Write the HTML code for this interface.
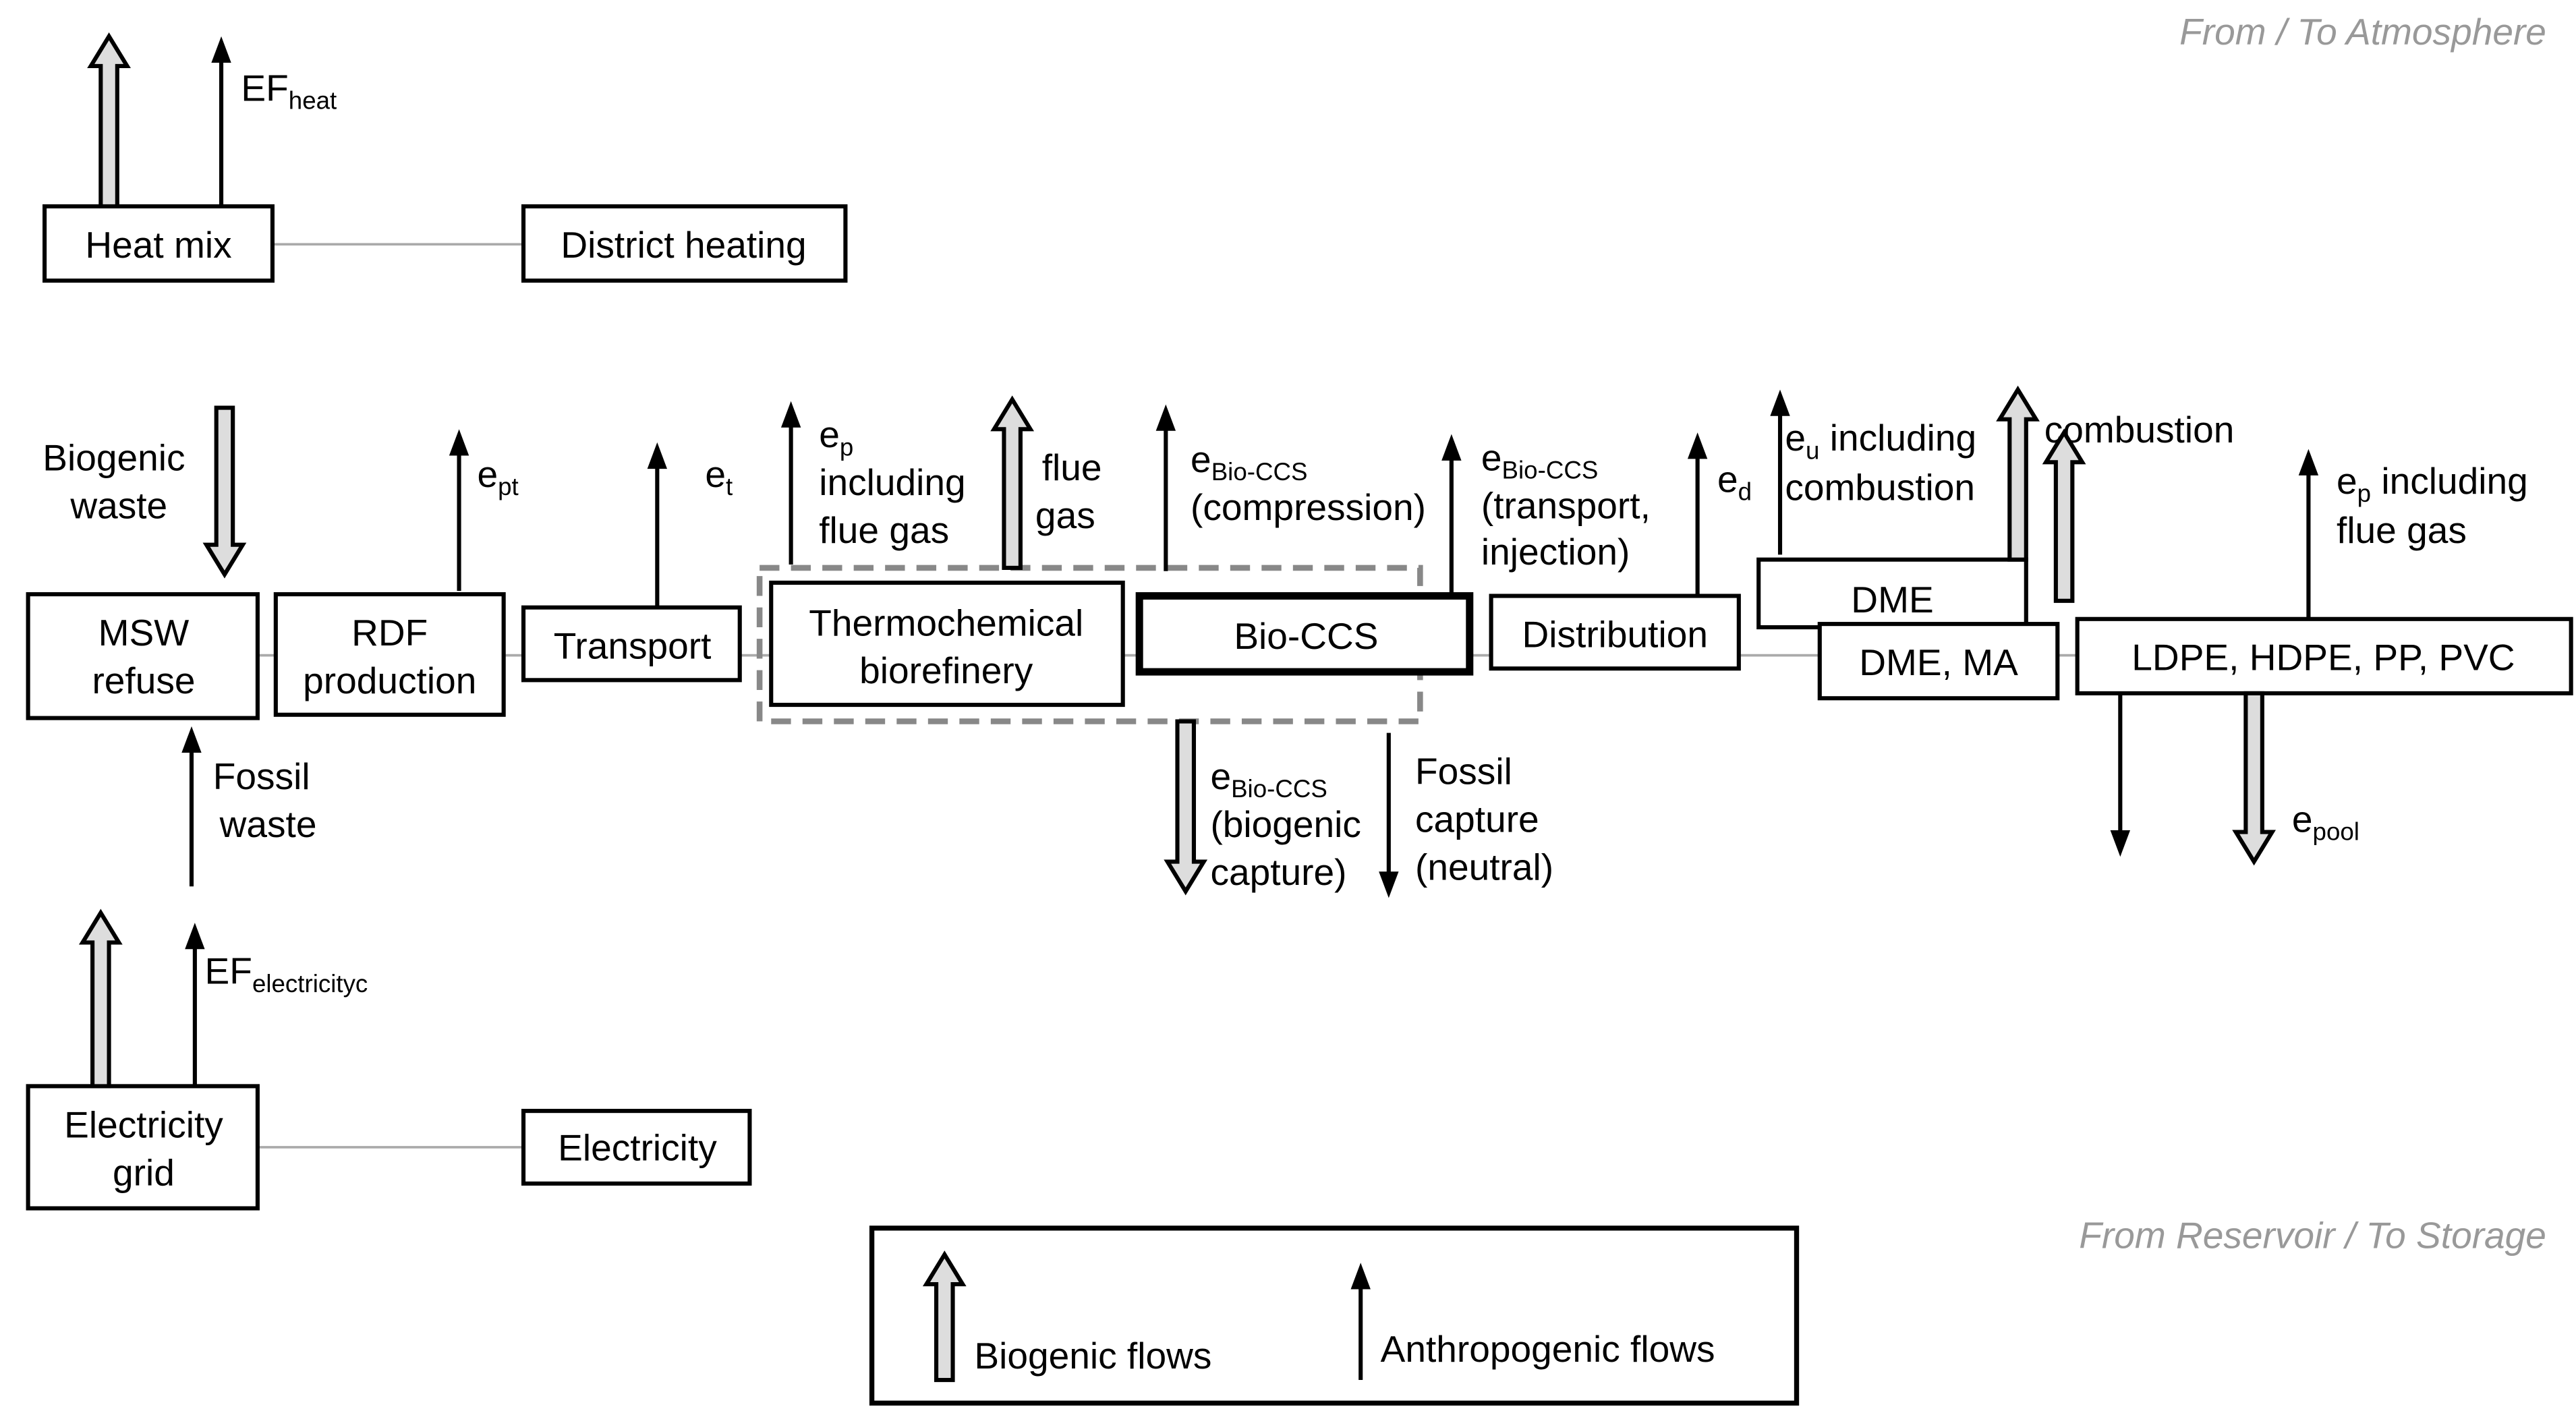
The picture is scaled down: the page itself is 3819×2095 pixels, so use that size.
<!DOCTYPE html>
<html><head><meta charset="utf-8"><style>
html,body{margin:0;padding:0;background:#fff;}
svg{display:block;}
text{font-family:"Liberation Sans",sans-serif;font-size:22.5px;fill:#000;}
.s{font-size:15px;}
.c{text-anchor:middle;}
.g{fill:#999;font-style:italic;text-anchor:end;}
</style></head><body>
<svg width="3819" height="2095" viewBox="0 0 1560 856" preserveAspectRatio="none" xmlns="http://www.w3.org/2000/svg">
<defs>
<marker id="h" markerWidth="6" markerHeight="8" refX="5" refY="4" orient="auto" markerUnits="userSpaceOnUse" viewBox="0 0 6 8"></marker>
</defs>
<g stroke="#aaa" stroke-width="1.5">
<line x1="165" y1="148" x2="317" y2="148"/>
<line x1="156" y1="397" x2="1258" y2="397"/>
<line x1="156" y1="695" x2="317" y2="695"/>
</g>
<rect x="460" y="344" width="400" height="93" fill="none" stroke="#888" stroke-width="3.5" stroke-dasharray="12,7"/>
<g fill="#fff" stroke="#000" stroke-width="2.5">
<rect x="27" y="125" width="138" height="45"/>
<rect x="317" y="125" width="195" height="45"/>
<rect x="17" y="360" width="139" height="75"/>
<rect x="167" y="360" width="138" height="73"/>
<rect x="317" y="368" width="131" height="44"/>
<rect x="467" y="353" width="213" height="74"/>
<rect x="690" y="361" width="200" height="46" stroke-width="4.5"/>
<rect x="903" y="361" width="150" height="44"/>
<rect x="1065" y="339" width="162" height="41"/>
<rect x="1102" y="378" width="144" height="45"/>
<rect x="1258" y="375" width="299" height="45"/>
<rect x="17" y="658" width="139" height="74"/>
<rect x="317" y="673" width="137" height="44"/>
<rect x="528" y="744" width="560" height="106" stroke-width="3"/>
</g>
<!-- thin arrows -->
<g stroke="#000" stroke-width="2.5">
<line x1="134" y1="125" x2="134" y2="36"/>
<line x1="116" y1="537" x2="116" y2="454"/>
<line x1="278" y1="358" x2="278" y2="274"/>
<line x1="398" y1="368" x2="398" y2="282"/>
<line x1="479" y1="342" x2="479" y2="257"/>
<line x1="706" y1="346" x2="706" y2="259"/>
<line x1="879" y1="361" x2="879" y2="277"/>
<line x1="1028" y1="361" x2="1028" y2="276"/>
<line x1="1078" y1="336" x2="1078" y2="250"/>
<line x1="1398" y1="375" x2="1398" y2="286"/>
<line x1="1284" y1="420" x2="1284" y2="505"/>
<line x1="841" y1="444" x2="841" y2="530"/>
<line x1="118" y1="658" x2="118" y2="573"/>
<line x1="824" y1="836" x2="824" y2="779"/>
</g>
<g fill="#000">
<polygon points="134,22 128,38 140,38"/>
<polygon points="116,440 110,456 122,456"/>
<polygon points="278,260 272,276 284,276"/>
<polygon points="398,268 392,284 404,284"/>
<polygon points="479,243 473,259 485,259"/>
<polygon points="706,245 700,261 712,261"/>
<polygon points="879,263 873,279 885,279"/>
<polygon points="1028,262 1022,278 1034,278"/>
<polygon points="1078,236 1072,252 1084,252"/>
<polygon points="1398,272 1392,288 1404,288"/>
<polygon points="1284,519 1278,503 1290,503"/>
<polygon points="841,544 835,528 847,528"/>
<polygon points="118,559 112,575 124,575"/>
<polygon points="824,765 818,781 830,781"/>
</g>
<!-- biogenic arrows -->
<g fill="#ddd" stroke="#000" stroke-width="2.5" stroke-linejoin="miter">
<polygon points="61,125 61,40 55,40 66,22 77,40 71,40 71,125"/>
<polygon points="131,247 131,330 125,330 136,348 147,330 141,330 141,247"/>
<polygon points="608,344 608,260 602,260 613,242 624,260 618,260 618,344"/>
<polygon points="713,437 713,522 707,522 718,540 729,522 723,522 723,437"/>
<polygon points="1217,339 1217,254 1211,254 1222,236 1233,254 1227,254 1227,339"/>
<polygon points="1245,364 1245,280 1239,280 1250,262 1261,280 1255,280 1255,364"/>
<polygon points="1360,420 1360,504 1354,504 1365,522 1376,504 1370,504 1370,420"/>
<polygon points="56,658 56,571 50,571 61,553 72,571 66,571 66,658"/>
<polygon points="567,836 567,778 561,778 572,760 583,778 577,778 577,836"/>
</g>
<!-- texts -->
<text class="g" x="1542" y="27">From / To Atmosphere</text>
<text class="g" x="1542" y="756">From Reservoir / To Storage</text>
<text class="c" x="96" y="156">Heat mix</text>
<text class="c" x="414" y="156">District heating</text>
<text x="146" y="61">EF<tspan class="s" dy="5">heat</tspan></text>
<text class="c" x="69" y="285">Biogenic</text>
<text class="c" x="72" y="314">waste</text>
<text class="c" x="87" y="391">MSW</text>
<text class="c" x="87" y="420">refuse</text>
<text class="c" x="236" y="391">RDF</text>
<text class="c" x="236" y="420">production</text>
<text class="c" x="383" y="399">Transport</text>
<text class="c" x="573" y="385">Thermochemical</text>
<text class="c" x="573" y="414">biorefinery</text>
<text class="c" x="791" y="393">Bio-CCS</text>
<text class="c" x="978" y="392">Distribution</text>
<text class="c" x="1146" y="371">DME</text>
<text class="c" x="1174" y="409">DME, MA</text>
<text class="c" x="1407" y="406">LDPE, HDPE, PP, PVC</text>
<text x="289" y="295">e<tspan class="s" dy="5">pt</tspan></text>
<text x="427" y="295">e<tspan class="s" dy="5">t</tspan></text>
<text x="496" y="271">e<tspan class="s" dy="5">p</tspan></text>
<text x="496" y="300">including</text>
<text x="496" y="329">flue gas</text>
<text x="631" y="291">flue</text>
<text x="627" y="320">gas</text>
<text x="721" y="286">e<tspan class="s" dy="5">Bio-CCS</tspan></text>
<text x="721" y="315">(compression)</text>
<text x="897" y="285">e<tspan class="s" dy="5">Bio-CCS</tspan></text>
<text x="897" y="314">(transport,</text>
<text x="897" y="342">injection)</text>
<text x="1040" y="298">e<tspan class="s" dy="5">d</tspan></text>
<text x="1081" y="273">e<tspan class="s" dy="5">u</tspan><tspan dy="-5"> including</tspan></text>
<text x="1081" y="303">combustion</text>
<text x="1238" y="268">combustion</text>
<text x="1415" y="299">e<tspan class="s" dy="5">p</tspan><tspan dy="-5"> including</tspan></text>
<text x="1415" y="329">flue gas</text>
<text x="1388" y="504">e<tspan class="s" dy="5">pool</tspan></text>
<text x="733" y="478">e<tspan class="s" dy="5">Bio-CCS</tspan></text>
<text x="733" y="507">(biogenic</text>
<text x="733" y="536">capture)</text>
<text x="857" y="475">Fossil</text>
<text x="857" y="504">capture</text>
<text x="857" y="533">(neutral)</text>
<text x="129" y="478">Fossil</text>
<text x="133" y="507">waste</text>
<text x="124" y="596">EF<tspan class="s" dy="5">electricityc</tspan></text>
<text class="c" x="87" y="689">Electricity</text>
<text class="c" x="87" y="718">grid</text>
<text class="c" x="386" y="703">Electricity</text>
<text x="590" y="829">Biogenic flows</text>
<text x="836" y="825">Anthropogenic flows</text>
</svg>
</body></html>
